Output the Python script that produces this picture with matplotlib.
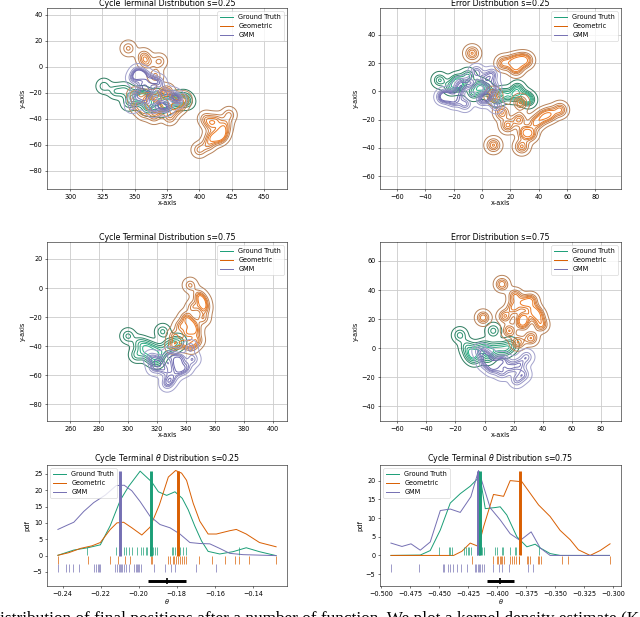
import numpy as np
import matplotlib
matplotlib.use("Agg")
import matplotlib.pyplot as plt
import matplotlib.colors as mcolors
from matplotlib.lines import Line2D
from matplotlib.ticker import MultipleLocator

# ---------------- data: 2-D terminal / error samples ----------------
# Cycle Terminal Distribution s=0.25
ct25_gt_x = [326, 335, 342, 348, 352, 356, 358, 362, 367, 372, 376, 380, 384, 388, 391, 360, 370, 345]
ct25_gt_y = [-15, -19, -18, -22, -26, -21, -24, -28, -23, -26, -30, -25, -27, -24, -27, -32, -33, -28]
ct25_geo_x = [345, 357, 359, 369, 366, 350, 352, 357, 362, 365, 370, 372, 375, 378, 380, 385, 388, 377, 360, 366,
              423, 413, 420, 409, 418, 409, 414, 417, 407, 400, 405]
ct25_geo_y = [14, 8, 3, 4, -7, -22, -30, -35, -28, -38, -32, -22, -19, -27, -33, -30, -25, -39, -24, -31,
              -37, -41, -45, -45, -50, -54, -55, -53, -60, -64, -40]
ct25_gmm_x = [352, 349, 357, 363, 369, 356, 352, 358, 364, 370, 375, 380, 384, 348, 362, 372]
ct25_gmm_y = [-4, -9, -6, -10, -12, -15, -22, -26, -33, -29, -32, -22, -26, -30, -19, -20]

# Error Distribution s=0.25
er25_gt_x = [-30, -22, -15, -6, -10, 3, 10, 22, 30, -18, 15, 25, -2, 33]
er25_gt_y = [8, 3, 4, -1, 11, 1, -5, -3, -4, 8, -2, 2, 4, -6]
er25_geo_x = [-7, 15, 22, 27, 31, 24, 55, 48, 43, 30, 34, 8, 28, 26, 14, 27, 8, 18, 38]
er25_geo_y = [27, 20, 21, 22, 22, 16, -13, -16, -18, -29, -30, -38, -39, -20, -15, -8, -3, -24, -22]
er25_gmm_x = [-25, -17, -8, 2, 0, 8, -12, -4, 7, -20, 4, -28, -15, 10]
er25_gmm_y = [-3, -1, 6, 8, -6, 3, -9, 14, 12, -7, -3, -4, 5, -10]

# Cycle Terminal Distribution s=0.75
ct75_gt_x = [300, 324, 308, 312, 318, 322, 327, 331, 316, 320, 306, 335, 313]
ct75_gt_y = [-33, -30, -38, -44, -42, -45, -41, -39, -48, -50, -46, -37, -40]
ct75_geo_x = [343, 349, 352, 353, 345, 340, 344, 336, 341, 347, 332, 344, 348, 338, 331, 352]
ct75_geo_y = [2, -5, -9, -14, -13, -20, -24, -26, -31, -29, -33, -40, -36, -38, -40, -21]
ct75_gmm_x = [343, 336, 329, 322, 335, 325, 318, 330, 340, 327, 345, 316, 333]
ct75_gmm_y = [-41, -48, -46, -50, -57, -56, -55, -62, -55, -66, -49, -48, -52]

# Error Distribution s=0.75
er75_gt_x = [-17, 6, -12, -5, 0, 4, 9, 14, -7, 2, -10, 18]
er75_gt_y = [9, 12, 1, -1, 1, -2, 0, -1, -7, -6, -4, 2]
er75_geo_x = [12, -1, 21, 27, 32, 20, 27, 26, 39, 37, 32, 17, 23, 14, 34]
er75_geo_y = [44, 21, 36, 31, 33, 28, 21, 17, 16, 22, 7, 12, 4, 22, 26]
er75_gmm_x = [-3, 2, 8, 13, 18, 24, 27, 22, 12, 5, 29, 0]
er75_gmm_y = [-2, -5, -10, -8, -13, -11, -18, -22, -17, -14, -6, -10]

# ---------------- data: theta distributions ----------------
# s = 0.25
t25_gt_x = [-0.24244, -0.23408, -0.22676, -0.22014, -0.21491, -0.20969, -0.20533, -0.19923, -0.19314, -0.18965,
            -0.18530, -0.18094, -0.17711, -0.17397, -0.17049, -0.16700, -0.16352, -0.15742, -0.15045, -0.14349,
            -0.13652, -0.12780]
t25_gt_y = [0.1, 1.7, 2.4, 3.3, 9.2, 16.9, 21.1, 25.8, 22.5, 19.5, 18.4, 19.5, 17.5, 14.0, 9.0, 4.5, 1.3, 0.5,
            1.2, 2.4, 1.2, 0.0]
t25_geo_x = [-0.24244, -0.23669, -0.23059, -0.22449, -0.22014, -0.21491, -0.21143, -0.20794, -0.20359, -0.19836,
             -0.19401, -0.18913, -0.18442, -0.18059, -0.17746, -0.17484, -0.17136, -0.16787, -0.16352, -0.15916,
             -0.15219, -0.14871, -0.14349, -0.13652, -0.12780]
t25_geo_y = [0.1, 0.9, 2.2, 3.0, 4.0, 8.0, 10.0, 10.2, 8.5, 6.3, 8.7, 15.5, 24.0, 26.0, 25.2, 23.0, 16.0, 10.5,
             6.6, 6.6, 7.6, 8.0, 6.6, 4.0, 2.7]
t25_gmm_x = [-0.24244, -0.23756, -0.23408, -0.22885, -0.22362, -0.21753, -0.21178, -0.20760, -0.20359, -0.19923,
             -0.19401, -0.18878, -0.18355, -0.17833, -0.17310, -0.16787, -0.16265, -0.15742, -0.15219, -0.14523,
             -0.12780]
t25_gmm_y = [8.0, 9.3, 10.2, 13.5, 16.2, 18.5, 21.4, 21.5, 19.8, 16.5, 12.0, 9.5, 8.5, 6.6, 4.0, 3.7, 3.6, 2.2,
             0.7, 0.3, 0.0]
t25_gt_rug = [-0.22711, -0.21178, -0.20969, -0.20760, -0.20690, -0.20533, -0.20359, -0.20097, -0.19888, -0.19749,
              -0.19610, -0.19540, -0.19401, -0.19226, -0.19139, -0.19017, -0.18268, -0.18181, -0.18094, -0.18007,
              -0.17920, -0.17833, -0.17693, -0.17519, -0.14732]
t25_geo_rug = [-0.24244, -0.22676, -0.21491, -0.21108, -0.20742, -0.20481, -0.19348, -0.19296, -0.18442, -0.18338,
               -0.18216, -0.18146, -0.18059, -0.17955, -0.17833, -0.17711, -0.17606, -0.17519, -0.16840, -0.16143,
               -0.15446, -0.14958, -0.14732, -0.14209, -0.12780]
t25_gmm_rug = [-0.24244, -0.23808, -0.23669, -0.23460, -0.23146, -0.22327, -0.22240, -0.22153, -0.22084, -0.22014,
               -0.21230, -0.21143, -0.21056, -0.21003, -0.20934, -0.20881, -0.20794, -0.20655, -0.20533, -0.20237,
               -0.20150, -0.20097, -0.20045, -0.19958, -0.19888, -0.19192, -0.18617, -0.18320, -0.18094, -0.16962,
               -0.15951]
t25_means = {"GMM": -0.21003, "Ground Truth": -0.19366, "Geometric": -0.17920}
t25_bar = (-0.18530, 0.01003, -7.6)   # centre, half-width, level

# s = 0.75
t75_gt_x = [-0.4917, -0.4664, -0.4578, -0.4491, -0.4405, -0.4319, -0.4233, -0.4169, -0.4152, -0.4103, -0.4017,
            -0.3974, -0.3917, -0.3830, -0.3744, -0.3672, -0.3629, -0.3543, -0.3457, -0.3031]
t75_gt_y = [0.0, 0.1, 1.3, 6.8, 14.0, 16.5, 18.5, 20.5, 21.8, 12.5, 12.8, 13.0, 10.8, 5.0, 2.3, 3.0, 2.0, 0.5,
            0.0, 0.0]
t75_geo_x = [-0.4917, -0.4376, -0.4305, -0.4233, -0.4161, -0.4118, -0.4032, -0.3945, -0.3888, -0.3787, -0.3643,
             -0.3543, -0.3457, -0.3370, -0.3299, -0.3198, -0.3112, -0.3026]
t75_geo_y = [0.0, 0.0, 1.1, 3.3, 2.4, 7.6, 16.3, 15.8, 20.0, 19.7, 13.5, 10.4, 6.7, 4.2, 1.5, 0.0, 1.3, 3.1]
t75_gmm_x = [-0.4917, -0.4822, -0.4744, -0.4664, -0.4578, -0.4491, -0.4405, -0.4319, -0.4227, -0.4161, -0.4060,
             -0.3974, -0.3888, -0.3802, -0.3707, -0.3629, -0.3543, -0.3031]
t75_gmm_y = [3.3, 2.4, 3.1, 1.4, 3.6, 12.0, 12.4, 11.5, 15.7, 22.7, 12.7, 9.5, 5.8, 4.0, 6.3, 2.0, 0.0, 0.0]
t75_gt_rug = [-0.4500, -0.4419, -0.4405, -0.4391, -0.4284, -0.4270, -0.4256, -0.4241, -0.4227, -0.4175, -0.4161,
              -0.4146, -0.4132, -0.4118, -0.4023, -0.4003, -0.3960, -0.3951, -0.3888, -0.3845, -0.3836, -0.3643]
t75_geo_rug = [-0.4218, -0.4032, -0.4003, -0.3994, -0.3980, -0.3968, -0.3960, -0.3945, -0.3888, -0.3873, -0.3859,
               -0.3836, -0.3816, -0.3810, -0.3744, -0.3730, -0.3715, -0.3649, -0.3638, -0.3623, -0.3442, -0.3385,
               -0.3026]
t75_gmm_rug = [-0.4917, -0.4672, -0.4468, -0.4457, -0.4425, -0.4411, -0.4382, -0.4348, -0.4313, -0.4261, -0.4190,
               -0.4181, -0.4169, -0.4161, -0.4146, -0.4132, -0.4118, -0.4037, -0.3988, -0.3960, -0.3894, -0.3738,
               -0.3692]
t75_means = {"GMM": -0.4167, "Ground Truth": -0.4152, "Geometric": -0.3807}
t75_bar = (-0.3974, 0.0115, -6.7)

labels = ["Ground Truth", "Geometric", "GMM"]
caption = "istribution of final positions after a number of function. We plot a kernel density estimate (K"

# ---------------- style ----------------
DPI = 47
C = {"Ground Truth": "#1b9e77", "Geometric": "#d95f02", "GMM": "#7570b3"}
C_OUT = {"Ground Truth": "#2f7d61", "Geometric": "#b7835b", "GMM": "#a4a3cd"}
C_IN = {"Ground Truth": "#2bb58a", "Geometric": "#ee7a22", "GMM": "#6e69b0"}

fig = plt.figure(figsize=(640 / DPI, 617 / DPI), dpi=DPI)

L0, L1 = 47 / 640, 380 / 640
W0, W1 = 240 / 640, 241 / 640
rows = [(1 - 189 / 617, 181 / 617), (1 - 421 / 617, 179 / 617), (1 - 586 / 617, 121 / 617)]


def kde2d(px, py, bw, xlim, ylim, n=300):
    gx = np.linspace(xlim[0], xlim[1], n)
    gy = np.linspace(ylim[0], ylim[1], n)
    X, Y = np.meshgrid(gx, gy)
    Z = np.zeros_like(X)
    for a, b in zip(px, py):
        Z += np.exp(-((X - a) ** 2 + (Y - b) ** 2) / (2 * bw * bw))
    Z /= len(px) * 2 * np.pi * bw * bw
    return X, Y, Z


def iso_levels(Z, nlev=7, thresh=0.05):
    props = np.linspace(thresh, 1, nlev)
    vals = np.sort(Z.ravel())[::-1]
    cum = np.cumsum(vals) / vals.sum()
    idx = np.searchsorted(cum, 1 - props)
    lv = np.take(vals, idx, mode="clip")
    lv = np.unique(lv)
    return lv[lv < Z.max() * 0.999]


def blend(c0, c1, n):
    a = np.array(mcolors.to_rgb(c0))
    b = np.array(mcolors.to_rgb(c1))
    return [tuple(a + (b - a) * t) for t in np.linspace(0, 1, max(n, 1))]


def panel2d(rect, title, series, bw, xlim, ylim, xstep, ystep):
    ax = fig.add_axes(rect)
    ax.grid(True, color="#cccccc", lw=1.3)
    ax.set_axisbelow(True)
    for lab, (px, py) in zip(labels, series):
        X, Y, Z = kde2d(px, py, bw, xlim, ylim)
        lv = iso_levels(Z)
        ax.contour(X, Y, Z, levels=lv, colors=blend(C_OUT[lab], C_IN[lab], len(lv)), linewidths=1.5)
    ax.set_xlim(xlim)
    ax.set_ylim(ylim)
    ax.xaxis.set_major_locator(MultipleLocator(xstep))
    ax.yaxis.set_major_locator(MultipleLocator(ystep))
    ax.set_title(title, pad=2)
    ax.set_xlabel("x-axis", labelpad=1)
    ax.set_ylabel("y-axis")
    handles = [Line2D([], [], color=C[l], lw=1.5) for l in labels]
    ax.legend(handles, labels, loc="upper right")
    return ax


panel2d([L0, rows[0][0], W0, rows[0][1]], "Cycle Terminal Distribution s=0.25",
        [(ct25_gt_x, ct25_gt_y), (ct25_geo_x, ct25_geo_y), (ct25_gmm_x, ct25_gmm_y)],
        3.6, (282, 468), (-94, 45), 25, 20)
panel2d([L1, rows[0][0], W1, rows[0][1]], "Error Distribution s=0.25",
        [(er25_gt_x, er25_gt_y), (er25_geo_x, er25_geo_y), (er25_gmm_x, er25_gmm_y)],
        3.3, (-72, 98), (-69, 59), 20, 20)
panel2d([L0, rows[1][0], W0, rows[1][1]], "Cycle Terminal Distribution s=0.75",
        [(ct75_gt_x, ct75_gt_y), (ct75_geo_x, ct75_geo_y), (ct75_gmm_x, ct75_gmm_y)],
        3.2, (244, 410), (-91.5, 31.7), 20, 20)
panel2d([L1, rows[1][0], W1, rows[1][1]], "Error Distribution s=0.75",
        [(er75_gt_x, er75_gt_y), (er75_geo_x, er75_geo_y), (er75_gmm_x, er75_gmm_y)],
        3.2, (-72, 94), (-50, 73), 20, 20)


def panel_theta(rect, title, curves, rugs, rug_off, means, bar, xstep):
    ax = fig.add_axes(rect)
    ymax = max(max(c[1]) for c in curves)
    for lab, (cx, cy) in zip(labels, curves):
        ax.plot(cx, cy, color=C[lab], lw=1.5, label=lab)
    for lab, r, off in zip(labels, rugs, rug_off):
        ax.plot(r, [off] * len(r), ls="none", marker="|", ms=12, mew=1.4, color=C[lab], alpha=0.75)
    for lab in ["GMM", "Ground Truth", "Geometric"]:
        ax.vlines(means[lab], 0, ymax, color=C[lab], lw=4.5)
    ax.errorbar(bar[0], bar[2], xerr=bar[1], fmt="|", color="k", elinewidth=4.5, ms=8, mew=2.5, capsize=0)
    ax.xaxis.set_major_locator(MultipleLocator(xstep))
    ax.yaxis.set_major_locator(MultipleLocator(5))
    ax.set_title(title, pad=4)
    ax.set_xlabel(r"$\theta$", labelpad=1)
    ax.set_ylabel("pdf")
    ax.legend(loc="upper left")
    return ax


panel_theta([L0, rows[2][0], W0, rows[2][1]], r"Cycle Terminal $\theta$ Distribution s=0.25",
            [(t25_gt_x, t25_gt_y), (t25_geo_x, t25_geo_y), (t25_gmm_x, t25_gmm_y)],
            [t25_gt_rug, t25_geo_rug, t25_gmm_rug], [1.5, -1.3, -3.9], t25_means, t25_bar, 0.02)
panel_theta([L1, rows[2][0], W1, rows[2][1]], r"Cycle Terminal $\theta$ Distribution s=0.75",
            [(t75_gt_x, t75_gt_y), (t75_geo_x, t75_geo_y), (t75_gmm_x, t75_gmm_y)],
            [t75_gt_rug, t75_geo_rug, t75_gmm_rug], [1.2, -1.1, -3.4], t75_means, t75_bar, 0.025)

fig.text(0.0, -0.009, caption, family="Liberation Serif", fontsize=26.5, va="baseline", ha="left")

fig.savefig("out.png", dpi=DPI)
